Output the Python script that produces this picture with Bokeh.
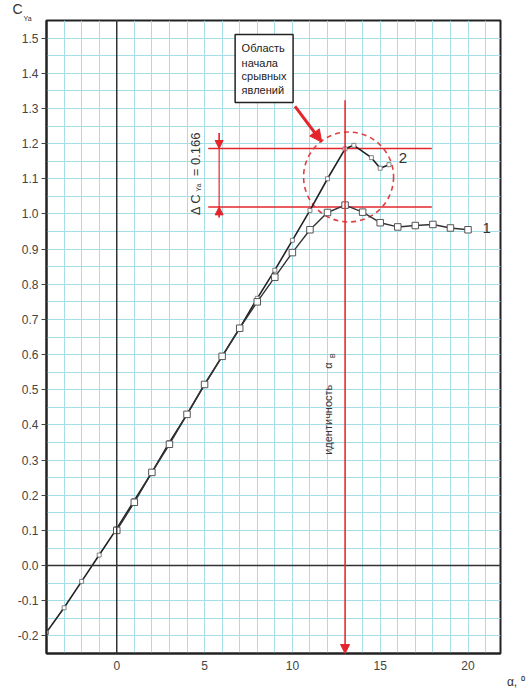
import math
from bokeh.plotting import figure
from bokeh.models import (Label, Arrow, NormalHead, Span, FixedTicker,
                          PrintfTickFormatter, Range1d, Title)
from bokeh.embed import file_html
from bokeh.resources import INLINE

# ---- data ----
alpha1 = [0, 1, 2, 3, 4, 5, 6, 7, 8, 9, 10, 11, 12, 13, 14, 15, 16, 17, 18, 19, 20]
cy1 = [0.10, 0.18, 0.265, 0.345, 0.43, 0.515, 0.595, 0.675, 0.75, 0.82, 0.89,
       0.955, 1.004, 1.025, 1.005, 0.975, 0.963, 0.967, 0.97, 0.96, 0.955]

alpha2 = [-4, -3, -2, -1, 0, 1, 2, 3, 4, 5, 6, 7, 8, 9, 10, 11, 12, 13,
          13.5, 14.5, 15, 15.5]
cy2 = [-0.19, -0.12, -0.045, 0.03, 0.105, 0.185, 0.265, 0.35, 0.43, 0.515,
       0.595, 0.675, 0.76, 0.84, 0.925, 1.01, 1.10, 1.185, 1.195, 1.16, 1.13, 1.14]

x_ticks = [0, 5, 10, 15, 20]
y_ticks = [round(-0.2 + 0.1 * i, 2) for i in range(18)]
x_grid = list(range(-4, 23))
y_grid = [round(-0.25 + 0.05 * i, 3) for i in range(37)]

cy_low = 1.02
cy_high = 1.186
alpha_b = 13

RED = "#e3262b"
FONT = "Liberation Sans"
TXT = "#333333"

p = figure(width=528, height=688, output_backend="svg", toolbar_location=None,
           x_range=Range1d(-4, 21.85), y_range=Range1d(-0.25, 1.55),
           min_border_left=46, min_border_right=28, min_border_top=20,
           min_border_bottom=34)
p.background_fill_color = "white"
p.border_fill_color = "white"
p.outline_line_color = "#222222"
p.outline_line_width = 2

# grid
p.xgrid.ticker = FixedTicker(ticks=x_grid)
p.ygrid.ticker = FixedTicker(ticks=y_grid)
for g in (p.xgrid, p.ygrid):
    g.grid_line_color = "#a6dde6"
    g.grid_line_width = 1

# axes
p.xaxis.ticker = FixedTicker(ticks=x_ticks)
p.yaxis.ticker = FixedTicker(ticks=y_ticks)
p.yaxis.formatter = PrintfTickFormatter(format="%.1f")
for ax in (p.xaxis, p.yaxis):
    ax.axis_line_color = "#222222"
    ax.axis_line_width = 2
    ax.major_label_text_font = FONT
    ax.major_label_text_font_size = "12px"
    ax.major_label_text_color = "#444444"
    ax.minor_tick_line_color = None
    ax.major_tick_in = 0
p.yaxis.major_tick_out = 5
p.yaxis.major_tick_line_color = "#444444"
p.yaxis.major_label_standoff = 3
p.xaxis.major_tick_out = 0
p.xaxis.major_label_standoff = 7

# axis titles (as plot titles placed outside the frame)
p.add_layout(Title(text="Ya", align="left", offset=-23, standoff=-2,
                   text_font=FONT, text_font_size="7px", text_font_style="normal",
                   text_color=TXT), "above")
p.add_layout(Title(text="C", align="left", offset=-34, standoff=-6,
                   text_font=FONT, text_font_size="14px", text_font_style="normal",
                   text_color=TXT), "above")
p.add_layout(Title(text="α, ⁰", align="right", offset=-24, standoff=0,
                   text_font=FONT, text_font_size="12px", text_font_style="normal",
                   text_color=TXT), "below")

# zero lines
p.add_layout(Span(location=0, dimension="height", line_color="#333333", line_width=1.5))
p.add_layout(Span(location=0, dimension="width", line_color="#333333", line_width=1.5))

# red horizontal reference lines
p.segment(x0=[5.21, 5.21], y0=[cy_high, cy_low], x1=[17.94, 17.94], y1=[cy_high, cy_low],
          line_color=RED, line_width=1.5)

# delta bracket
p.segment(x0=[5.83], y0=[0.99], x1=[5.83], y1=[1.23], line_color=RED, line_width=1.2)
p.add_layout(Arrow(end=NormalHead(size=8, fill_color=RED, line_color=RED),
                   x_start=5.83, y_start=1.23, x_end=5.83, y_end=cy_high,
                   line_color=RED, line_width=1.2))
p.add_layout(Arrow(end=NormalHead(size=8, fill_color=RED, line_color=RED),
                   x_start=5.83, y_start=0.99, x_end=5.83, y_end=cy_low,
                   line_color=RED, line_width=1.2))

# vertical red line at alpha_b
p.add_layout(Arrow(end=NormalHead(size=9, fill_color=RED, line_color=RED),
                   x_start=alpha_b, y_start=1.323, x_end=alpha_b, y_end=-0.25,
                   line_color=RED, line_width=1.5))

# dashed circle
p.circle(x=[13.2], y=[1.105], radius=45, radius_units="screen",
         fill_color=None, line_color="#e04040", line_width=1.6, line_dash="5 4")

# curve 2
p.line(alpha2, cy2, line_color="#222222", line_width=1.6)
p.scatter(alpha2, cy2, marker="square", size=4, fill_color="white",
          line_color="#666666", line_width=0.8)

# curve 1
p.line(alpha1, cy1, line_color="#333333", line_width=1.4)
p.scatter(alpha1, cy1, marker="square", size=6.5, fill_color="white",
          line_color="#555555", line_width=1)

# annotation box
p.quad(left=[6.74], right=[10.04], bottom=[1.317], top=[1.510],
       fill_color="white", line_color="#222222", line_width=1.5)
for txt, yy in zip(["Область", "начала", "срывных", "явлений"],
                   [1.4705, 1.4288, 1.391, 1.3532]):
    p.add_layout(Label(x=7.11, y=yy, text=txt, text_font=FONT, text_font_size="11px",
                       text_color="#222222", text_align="left", text_baseline="middle"))

# red arrow to region
p.add_layout(Arrow(end=NormalHead(size=12, fill_color=RED, line_color=RED),
                   x_start=10.15, y_start=1.306, x_end=11.67, y_end=1.2045,
                   line_color=RED, line_width=3))

# curve labels
p.add_layout(Label(x=16.29, y=1.158, text="2", text_font=FONT, text_font_size="15px",
                   text_color=TXT, text_align="center", text_baseline="middle"))
p.add_layout(Label(x=21.06, y=0.959, text="1", text_font=FONT, text_font_size="15px",
                   text_color=TXT, text_align="center", text_baseline="middle"))

# delta label (rotated)
rot = math.pi / 2
p.add_layout(Label(x=4.47, y=0.996, text="Δ C", angle=rot, text_font=FONT,
                   text_font_size="13px", text_color=TXT, text_align="left",
                   text_baseline="middle"))
p.add_layout(Label(x=4.66, y=1.063, text="Ya", angle=rot, text_font=FONT,
                   text_font_size="7px", text_color=TXT, text_align="left",
                   text_baseline="middle"))
p.add_layout(Label(x=4.47, y=1.107, text="=  0.166", angle=rot, text_font=FONT,
                   text_font_size="13px", text_color=TXT, text_align="left",
                   text_baseline="middle"))

# identity label (rotated)
p.add_layout(Label(x=12.03, y=0.315, text="идентичность", angle=rot, text_font=FONT,
                   text_font_size="11px", text_color=TXT, text_align="left",
                   text_baseline="middle"))
p.add_layout(Label(x=12.03, y=0.56, text="α", angle=rot, text_font=FONT,
                   text_font_size="11px", text_color=TXT, text_align="left",
                   text_baseline="middle"))
p.add_layout(Label(x=12.28, y=0.59, text="B", angle=rot, text_font=FONT,
                   text_font_size="7px", text_color=TXT, text_align="left",
                   text_baseline="middle"))

open("out.html", "w").write(file_html(p, INLINE))
